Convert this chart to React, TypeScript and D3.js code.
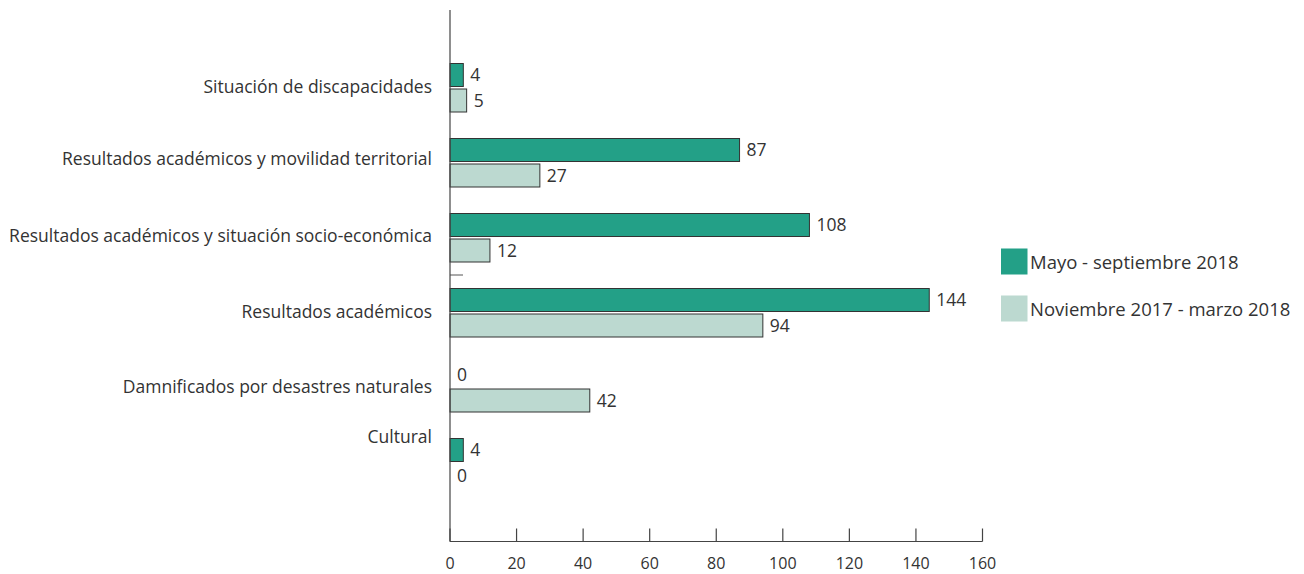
import React from "react";
import * as d3 from "d3";

const categories = [
  "Situación de discapacidades",
  "Resultados académicos y movilidad territorial",
  "Resultados académicos y situación socio-económica",
  "Resultados académicos",
  "Damnificados por desastres naturales",
  "Cultural",
];
const labelShift = [-2, -5, -3, -2, -2, -27];
const mayo = [4, 87, 108, 144, 0, 4];
const noviembre = [5, 27, 12, 94, 42, 0];
const seriesNames = ["Mayo - septiembre 2018", "Noviembre 2017 - marzo 2018"];
const colors = ["#23a087", "#bcd9d0"];
const xTicks = [0, 20, 40, 60, 80, 100, 120, 140, 160];

const W = 1304;
const H = 574;
const FONT = "'Open Sans', Lato, sans-serif";

export default function App() {
  const x = d3.scaleLinear().domain([0, 160]).range([450, 982.5]);
  const y = d3.scaleBand<string>().domain(categories).range([50, 500]).padding(0);
  const axisY = 541.5;
  const barH = 23;
  const txt = "#333";
  return (
    <svg width={W} height={H} style={{ position: "absolute", left: 0, top: 0, background: "#fff" }} fontFamily={FONT}>
      {categories.map((c, i) => {
        const cy = (y(c) ?? 0) + y.bandwidth() / 2;
        const vals = [mayo[i], noviembre[i]];
        return (
          <g key={c}>
            <text x={432} y={cy + labelShift[i]} textAnchor="end" dominantBaseline="central" fontSize={17.5} fill={txt}>
              {c}
            </text>
            {vals.map((v, s) => {
              const top = s === 0 ? cy - 1 - barH : cy + 1.5;
              return (
                <g key={s}>
                  {v > 0 && (
                    <rect x={x(0)} y={top} width={x(v) - x(0)} height={barH} fill={colors[s]} stroke="#333" strokeWidth={1} />
                  )}
                  <text x={x(v) + 7} y={top + barH / 2 - 1} dominantBaseline="central" fontSize={17.5} fill={txt}>
                    {v}
                  </text>
                </g>
              );
            })}
          </g>
        );
      })}
      <line x1={450} x2={463} y1={275} y2={275} stroke="#555" strokeWidth={1} />
      <line x1={450} x2={450} y1={10} y2={axisY} stroke="#444" strokeWidth={1.2} />
      <line x1={450} x2={x(160)} y1={axisY} y2={axisY} stroke="#444" strokeWidth={1.2} />
      {xTicks.map((t) => (
        <g key={t}>
          <line x1={x(t)} x2={x(t)} y1={axisY} y2={axisY - 13} stroke="#444" strokeWidth={1.2} />
          <text x={x(t)} y={562.5} textAnchor="middle" dominantBaseline="central" fontSize={16} fill={txt}>
            {t}
          </text>
        </g>
      ))}
      {seriesNames.map((n, s) => (
        <g key={n}>
          <rect x={1001} y={248.5 + s * 47} width={26.5} height={26} fill={colors[s]} />
          <text x={1030} y={261.5 + s * 47} dominantBaseline="central" fontSize={18.5} fill={txt}>
            {n}
          </text>
        </g>
      ))}
    </svg>
  );
}
